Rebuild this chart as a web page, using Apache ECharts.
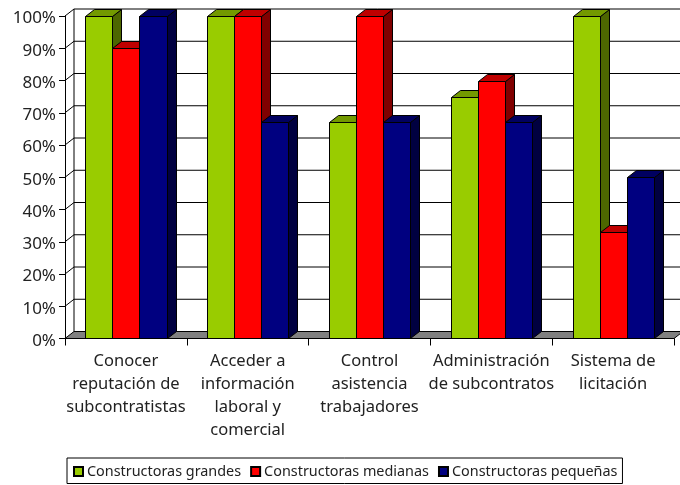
<!DOCTYPE html>
<html><head><meta charset="utf-8">
<style>html,body{margin:0;padding:0;background:#fff}#c{width:680px;height:485px}</style>
<script src="https://cdn.jsdelivr.net/npm/echarts@6/dist/echarts.min.js"></script>
</head><body><div id="c"></div>
<script>
const categories = ['Conocer\nreputación de\nsubcontratistas','Acceder a\ninformación\nlaboral y\ncomercial','Control\nasistencia\ntrabajadores','Administración\nde subcontratos','Sistema de\nlicitación'];
const seriesNames = ['Constructoras grandes','Constructoras medianas','Constructoras pequeñas'];
const grandes = [100,100,67,75,100];
const medianas = [90,100,100,80,33];
const pequenas = [100,67,67,67,50];
const ticks = [0,10,20,30,40,50,60,70,80,90,100];
const colors = [['#99CC00','#739900','#4D6600'],['#FF0000','#BF0000','#800000'],['#000080','#000060','#000040']];
const FONT = '"Noto Sans"';
const DX = 9, DY = -7;
const line = {stroke:'#000',lineWidth:1,fill:'none'};

function wallItem(params, api){
  const v = api.value(0);
  const left = api.coord([0,v]), yTop = left[1];
  const r = params.coordSys;
  const x0 = r.x, x1 = r.x + r.width, y = yTop;
  const kids = [];
  if (v === 0) {
    kids.push({type:'polygon',shape:{points:[[x0,y],[x0+DX,y+DY],[x1+DX,y+DY],[x1,y]]},style:{fill:'#808080',stroke:'#000',lineWidth:1}});
    const top = r.y;
    kids.push({type:'line',shape:{x1:x0+DX,y1:y+DY,x2:x0+DX,y2:top+DY},style:line});
  } else {
    kids.push({type:'line',shape:{x1:x0+DX,y1:y+DY,x2:x1+DX,y2:y+DY},style:line});
    kids.push({type:'line',shape:{x1:x0,y1:y,x2:x0+DX,y2:y+DY},style:line});
  }
  return {type:'group',children:kids};
}
function barItem(si){
  return function(params, api){
    const cat = api.value(0), v = api.value(1);
    const c = api.coord([cat,v]), b = api.coord([cat,0]);
    const w = api.size([1,0])[0]/4.5;
    const x = Math.round(c[0] - 1.5*w + si*w) + 0.5;
    const x2 = Math.round(c[0] - 1.5*w + (si+1)*w) + 0.5;
    const y = Math.round(c[1]) + 0.5, y0 = Math.round(b[1]) - 0.5;
    const col = colors[si];
    const st = f => ({fill:f,stroke:'#000',lineWidth:1});
    return {type:'group',children:[
      {type:'polygon',shape:{points:[[x2,y],[x2+DX,y+DY],[x2+DX,y0+DY],[x2,y0]]},style:st(col[2])},
      {type:'polygon',shape:{points:[[x,y],[x+DX,y+DY],[x2+DX,y+DY],[x2,y]]},style:st(col[1])},
      {type:'rect',shape:{x:x,y:y,width:x2-x,height:y0-y},style:st(col[0])}
    ]};
  };
}
const seriesData = [grandes,medianas,pequenas];
const chart = echarts.init(document.getElementById('c'),null,{renderer:'canvas'});
chart.setOption({
  animation:false,
  backgroundColor:'#fff',
  grid:{left:65,right:6,top:16,bottom:146.5,containLabel:false},
  xAxis:{type:'category',data:categories,
    axisLine:{lineStyle:{color:'#000',width:1}},
    axisTick:{show:true,alignWithLabel:false,length:7,lineStyle:{color:'#000'}},
    axisLabel:{interval:0,color:'#222',fontFamily:FONT,fontSize:16.5,lineHeight:23,margin:11,verticalAlign:'top'},
    z:5},
  yAxis:{type:'value',min:0,max:100,interval:10,
    axisLine:{show:true,lineStyle:{color:'#000',width:1}},
    axisTick:{show:true,length:6,lineStyle:{color:'#000'}},
    splitLine:{show:false},
    axisLabel:{color:'#222',fontFamily:FONT,fontSize:17,margin:9,verticalAlign:'middle',lineHeight:26,padding:[0,0,0,0],
      rich:{n:{fontFamily:FONT,fontSize:17,color:'#222',padding:[5,0,0,0]}},
      formatter:function(v){return '{n|'+v+'%}';}}},
  legend:{show:true,left:67,top:458,data:seriesNames,orient:'horizontal',
    itemWidth:9,itemHeight:9,itemGap:9,icon:'rect',padding:[6.5,5,5,6],
    borderColor:'#000',borderWidth:1,backgroundColor:'#fff',
    textStyle:{fontFamily:FONT,fontSize:14.4,color:'#222',padding:[0,0,0,-1]}},
  series:[
    {type:'custom',name:'walls',coordinateSystem:'cartesian2d',renderItem:wallItem,encode:{y:0},data:ticks.slice().reverse().map(t=>[t]),z:1,silent:true,clip:false},
    ...seriesNames.map((n,i)=>({type:'custom',name:n,coordinateSystem:'cartesian2d',renderItem:barItem(i),
      itemStyle:{color:colors[i][0],borderColor:'#000',borderWidth:1},
      encode:{x:0,y:1},data:seriesData[i].map((v,k)=>[k,v]),z:2+i,clip:false}))
  ]
});
</script></body></html>
